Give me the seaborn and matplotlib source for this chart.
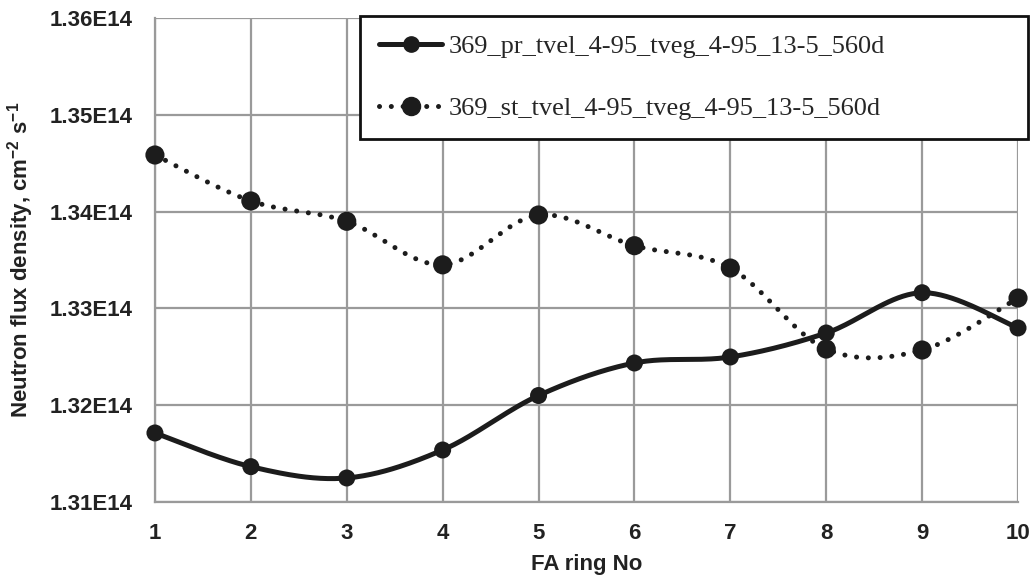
import numpy as np
import pandas as pd
import matplotlib
matplotlib.use("Agg")
import matplotlib.pyplot as plt
from matplotlib.lines import Line2D
from matplotlib.ticker import FuncFormatter, MultipleLocator
import seaborn as sns

# ---- data ----
rings = [1, 2, 3, 4, 5, 6, 7, 8, 9, 10]
pr_values = [1.31713e14, 1.31365e14, 1.31248e14, 1.31537e14, 1.32100e14,
             1.32436e14, 1.32498e14, 1.32746e14, 1.33162e14, 1.32798e14]
st_values = [1.34585e14, 1.34110e14, 1.33900e14, 1.33450e14, 1.33965e14,
             1.33648e14, 1.33417e14, 1.32580e14, 1.32570e14, 1.33107e14]
series_names = ["369_pr_tvel_4-95_tveg_4-95_13-5_560d",
                "369_st_tvel_4-95_tveg_4-95_13-5_560d"]
x_label = "FA ring No"
y_label = r"Neutron flux density, cm$^{-2}$ s$^{-1}$"


def smooth(xs, ys, n=40):
    """Excel-like smoothed line (Catmull-Rom -> cubic Bezier)."""
    P = np.column_stack([xs, ys]).astype(float)
    out = []
    m = len(P)
    for i in range(m - 1):
        p0 = P[i - 1] if i > 0 else P[i]
        p1 = P[i]
        p2 = P[i + 1]
        p3 = P[i + 2] if i + 2 < m else P[i + 1]
        c1 = p1 + (p2 - p0) / 6.0
        c2 = p2 - (p3 - p1) / 6.0
        t = np.linspace(0, 1, n, endpoint=(i == m - 2))[:, None]
        seg = ((1 - t) ** 3) * p1 + 3 * ((1 - t) ** 2) * t * c1 + 3 * (1 - t) * t ** 2 * c2 + t ** 3 * p2
        out.append(seg)
    arr = np.vstack(out)
    return arr[:, 0], arr[:, 1]


sns.set_theme(style="whitegrid")
plt.rcParams["font.family"] = ["Liberation Sans", "DejaVu Sans"]
plt.rcParams["mathtext.fontset"] = "custom"
plt.rcParams["mathtext.rm"] = "Liberation Sans:bold"
plt.rcParams["mathtext.bf"] = "Liberation Sans:bold"
plt.rcParams["mathtext.it"] = "Liberation Sans:bold"
plt.rcParams["mathtext.default"] = "bf"

fig = plt.figure(figsize=(10.33, 5.82), dpi=100)
ax = fig.add_axes([0.150, 0.1375, 0.8355, 0.8315])
ax.set_facecolor("white")

ink = "#1c1c1c"
grid_c = "#9a9a9a"
dotted = (0, (0.01, 2.35))

# smoothed curves
sx, sy = smooth(rings, pr_values)
df_pr = pd.DataFrame({"x": sx, "y": sy})
sns.lineplot(data=df_pr, x="x", y="y", ax=ax, color=ink, linewidth=3.6,
             sort=False, estimator=None, solid_capstyle="round")
sx2, sy2 = smooth(rings, st_values)
df_st = pd.DataFrame({"x": sx2, "y": sy2})
sns.lineplot(data=df_st, x="x", y="y", ax=ax, color=ink, linewidth=3.6,
             sort=False, estimator=None)
ax.lines[-1].set_linestyle(dotted)
ax.lines[-1].set_dash_capstyle("round")

# markers
pts = pd.DataFrame({"x": rings * 2, "y": pr_values + st_values,
                    "s": [series_names[0]] * 10 + [series_names[1]] * 10})
sns.scatterplot(data=pts[pts.s == series_names[0]], x="x", y="y", ax=ax,
                color=ink, s=150, edgecolor="none", zorder=5, clip_on=False, legend=False)
sns.scatterplot(data=pts[pts.s == series_names[1]], x="x", y="y", ax=ax,
                color=ink, s=190, edgecolor="none", zorder=5, clip_on=False, legend=False)

ax.set_xlim(1, 10)
ax.set_ylim(1.31e14, 1.36e14)
ax.xaxis.set_major_locator(MultipleLocator(1))
ax.yaxis.set_major_locator(MultipleLocator(0.01e14))
ax.yaxis.set_major_formatter(FuncFormatter(lambda v, p: f"{v/1e14:.2f}E14"))
ax.xaxis.set_major_formatter(FuncFormatter(lambda v, p: f"{int(round(v))}"))

ax.grid(True, color=grid_c, linewidth=1.6)
for side in ["top", "right"]:
    ax.spines[side].set_visible(False)
for side in ["left", "bottom"]:
    ax.spines[side].set_visible(True)
    ax.spines[side].set_color(grid_c)
    ax.spines[side].set_linewidth(1.6)

ax.tick_params(axis="both", length=0, labelsize=16, colors="#222222")
ax.tick_params(axis="y", pad=16)
ax.tick_params(axis="x", pad=15)
for lab in ax.get_xticklabels() + ax.get_yticklabels():
    lab.set_fontweight("bold")

ax.set_xlabel(x_label, fontsize=16, fontweight="bold", color="#222222", labelpad=7)
ax.set_ylabel(y_label, fontsize=16, fontweight="bold", color="#222222", labelpad=10)

handles = [
    Line2D([0], [0], color=ink, linewidth=3.6, marker="o", markersize=11),
    Line2D([0], [0], color=ink, linewidth=3.6, linestyle=dotted,
           dash_capstyle="round", marker="o", markersize=13),
]
fw, fh = 1033, 582
leg = fig.legend(handles, series_names, loc="upper left", mode="expand",
                 bbox_to_anchor=(360 / fw, 1 - 138 / fh, (1028 - 360) / fw, 122 / fh),
                 prop={"family": "Liberation Serif", "size": 19},
                 frameon=True, fancybox=False, framealpha=1,
                 edgecolor="#111111", borderpad=0.72, labelspacing=1.45,
                 handlelength=2.4, handletextpad=0.25, borderaxespad=0)
leg.get_frame().set_linewidth(2.0)

fig.savefig("out.png", dpi=100, facecolor="white")
